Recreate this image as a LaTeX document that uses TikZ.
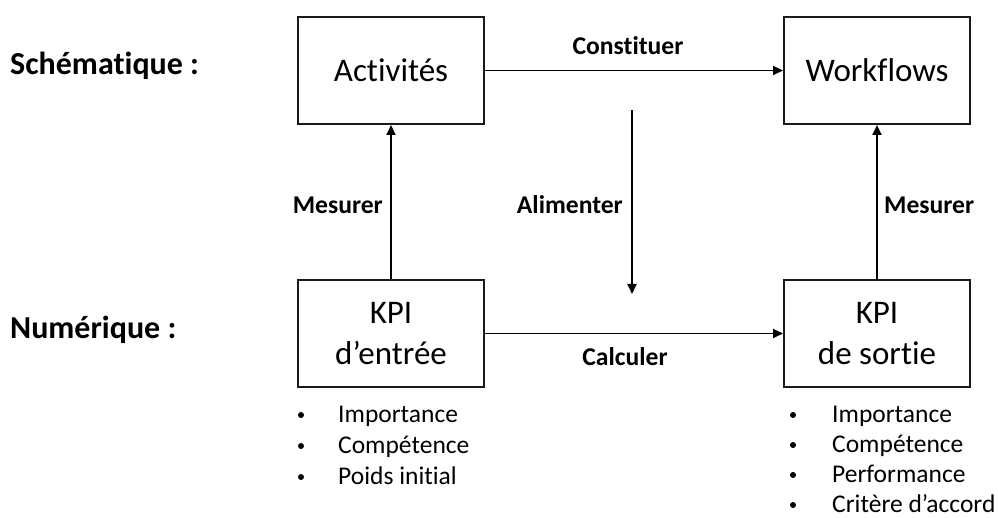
\documentclass[tikz,border=0pt]{standalone}
\usepackage{fontspec}
\setmainfont{Carlito}[RawFeature=-liga]
\usepackage{tikz}
\usetikzlibrary{arrows.meta}
\definecolor{boxline}{HTML}{1A1A1A}
\tikzset{
	etape/.style={draw=boxline, line width=2pt, minimum width=186pt, minimum height=107pt, align=center, font=\fontsize{33}{41}\selectfont, inner sep=0pt},
	fleche/.style={line width=1.8pt, -{Triangle[length=10pt,width=9pt]}},
	verbe/.style={font=\fontsize{25.6}{30}\selectfont\bfseries, inner sep=0pt},
	niveau/.style={font=\fontsize{32}{38}\selectfont\bfseries, anchor=base west, inner sep=0pt},
	puce/.style={font=\fontsize{25.5}{31}\selectfont, anchor=base west, inner sep=0pt},
	point/.style={circle, fill=black, inner sep=0pt, minimum size=6pt}
}

\begin{document}
\begin{tikzpicture}[x=1pt, y=-1pt]
		\useasboundingbox (0,0) rectangle (998,518);
		% niveaux
		\node[niveau] (schema) at (10,75) {Schématique :};
		\node[niveau] (num) at (10,338) {Numérique :};
		% boites
		\node[etape] (act) at (391,70.5) {Activités};
		\node[etape] (wf) at (877,70.5) {Workflows};
		\node[etape] (kpiin) at (391,333.5) {KPI\\d’entrée};
		\node[etape] (kpiout) at (877,333.5) {KPI\\de sortie};
		% liens
		\draw[fleche] (act) -- (wf);
		\draw[fleche] (kpiin) -- (kpiout);
		\draw[fleche] (kpiin) -- (act);
		\draw[fleche] (kpiout) -- (wf);
		\coordinate (alimA) at (632,110);
		\coordinate (alimB) at (632,294);
		\draw[fleche] (alimA) -- (alimB);
		\node[verbe] (constituer) at (628,46) {Constituer};
		\node[verbe] (calculer) at (625,357) {Calculer};
		\node[verbe, anchor=east] (mesurerA) at (383,205) {Mesurer};
		\node[verbe, anchor=west] (mesurerB) at (884,205) {Mesurer};
		\node[verbe, anchor=east] (alimenter) at (623,205) {Alimenter};
		% listes
		\foreach \txt [count=\i] in {Importance, Compétence, Poids initial} {
			\node[point] (in-b\i) at (301,{415+31*(\i-1)}) {};
			\node[puce] (in-t\i) at (338,{422+31*(\i-1)}) {\txt};
		}
		\foreach \txt [count=\i] in {Importance, Compétence, Performance, Critère d’accord} {
			\node[point] (out-b\i) at (793,{415+30*(\i-1)}) {};
			\node[puce] (out-t\i) at (832,{422+30*(\i-1)}) {\txt};
		}
	\end{tikzpicture}
\end{document}
